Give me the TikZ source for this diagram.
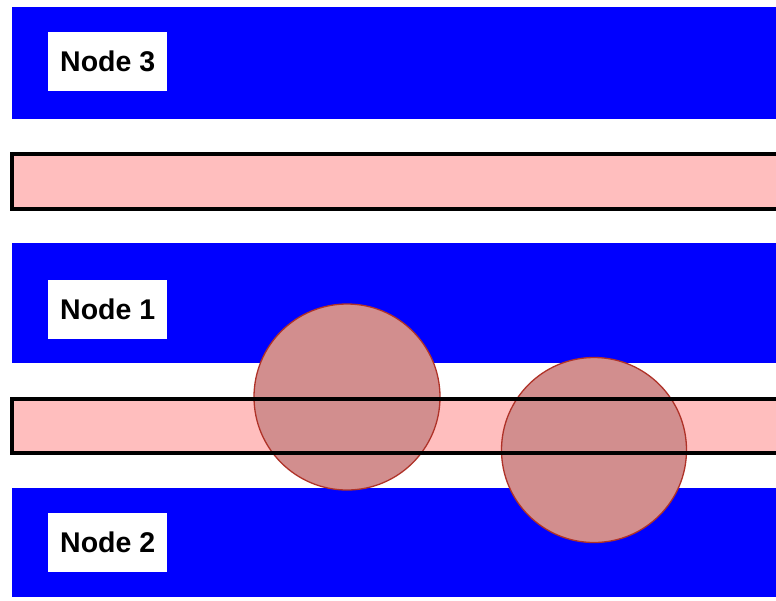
\documentclass[tikz,border=0pt]{standalone}
\usepackage{fontspec}
\setmainfont{Liberation Sans}
\begin{document}
\begin{tikzpicture}[x=1pt,y=-1pt,
  band/.style={fill=bandblue,draw=none},
  label/.style={fill=white,draw=none,inner sep=0pt,minimum width=119pt,minimum height=59pt,
    font=\fontsize{28.5}{28.5}\selectfont\bfseries,anchor=north west},
  bar/.style={draw=black,line width=4pt},
  barfill/.style={fill=barpink,draw=none},
  blob/.style={fill=blobred,draw=blobedge,line width=1.3pt}]
\definecolor{bandblue}{RGB}{0,0,255}
\definecolor{barpink}{RGB}{255,190,190}
\definecolor{blobred}{RGB}{210,142,142}
\definecolor{blobedge}{RGB}{175,50,40}
\useasboundingbox[fill=white] (0,0) rectangle (776,600);
% blue bands
\fill[band] (12,7) rectangle (780,119);
\fill[band] (12,243) rectangle (780,363);
\fill[band] (12,488) rectangle (780,597);
% labels
\node[label] (n3) at (48,32) {Node 3};
\node[label] (n1) at (48,280) {Node 1};
\node[label] (n2) at (48,513) {Node 2};
% pink bar fills
\fill[barfill] (12,154) rectangle (790,209);
\fill[barfill] (12,399) rectangle (790,453);
% circles
\draw[blob] (347,397) circle (93);
\draw[blob] (594,450) circle (92.5);
% bar outlines on top
\draw[bar] (12,154) rectangle (790,209);
\draw[bar] (12,399) rectangle (790,453);
\end{tikzpicture}
\end{document}
